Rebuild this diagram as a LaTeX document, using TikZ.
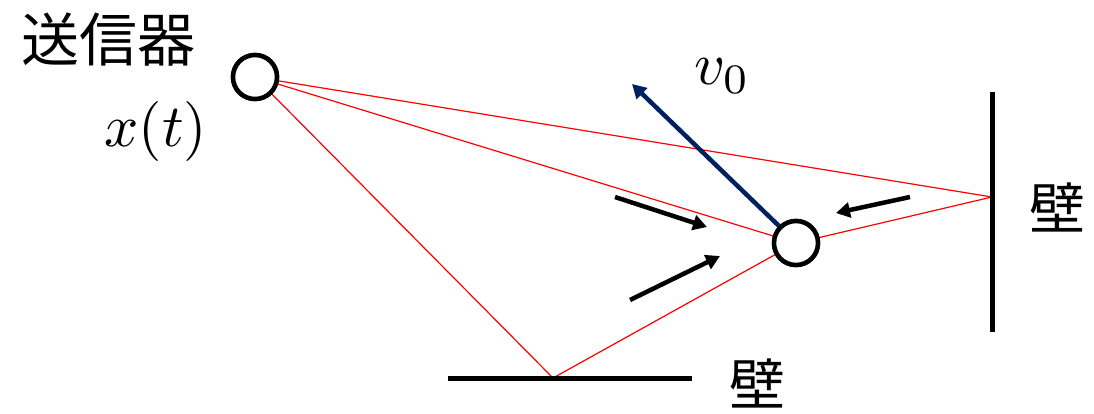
\documentclass[tikz,border=0pt]{standalone}
\usepackage{fontspec}
\newfontfamily\cjk{Noto Sans CJK JP}
\usetikzlibrary{arrows.meta}
\begin{document}
\begin{tikzpicture}[x=1pt,y=-1pt,
  obj/.style={circle,draw=black,line width=4.5pt,minimum size=44pt,inner sep=0pt,fill=white},
  ray/.style={draw=red,line width=1.2pt},
  wall/.style={line width=5pt,black},
  flow/.style={line width=4.5pt,-{Triangle[length=14pt,width=15pt]}},
  lab/.style={font=\cjk\fontsize{58}{62}\selectfont,inner sep=0pt},
  mth/.style={scale=6,inner sep=0pt}]
\useasboundingbox (0,0) rectangle (1094,413);
\coordinate (wr) at (992,197);
\coordinate (wb) at (553,378);
\coordinate (wrt) at (992,92);
\coordinate (wrb) at (992,332);
\coordinate (wbl) at (448,378);
\coordinate (wbr) at (692,378);
\node[obj] (tx) at (255,77) {};
\node[obj] (rx) at (796,243) {};
\draw[ray] (tx) -- (wr) -- (rx);
\draw[ray] (tx) -- (rx);
\draw[ray] (tx) -- (wb) -- (rx);
\draw[wall] (wrt) -- (wrb);
\draw[wall] (wbl) -- (wbr);
\node[obj] at (tx) {};
\node[obj] at (rx) {};
\coordinate (vtip) at (632,84);
\draw[line width=4.5pt,color={rgb,255:red,0;green,32;blue,96},-{Triangle[length=14pt,width=15pt]}] (rx.north west) -- (vtip);
\coordinate (a1s) at (615,197); \coordinate (a1e) at (707,227);
\coordinate (a2s) at (630,300); \coordinate (a2e) at (720,256);
\coordinate (a3s) at (910,197); \coordinate (a3e) at (836,213);
\draw[flow] (a1s) -- (a1e);
\draw[flow] (a2s) -- (a2e);
\draw[flow] (a3s) -- (a3e);
\node[lab] (ttx) at (108,40) {送信器};
\node[lab,font=\cjk\fontsize{56}{60}\selectfont] (tw1) at (1057,207) {壁};
\node[lab,font=\cjk\fontsize{56}{60}\selectfont] (tw2) at (757,383) {壁};
\node[mth] (xt) at (156,131) {$x(t)$};
\node[mth] (v0) at (722,76) {$v_0$};
\end{tikzpicture}
\end{document}
